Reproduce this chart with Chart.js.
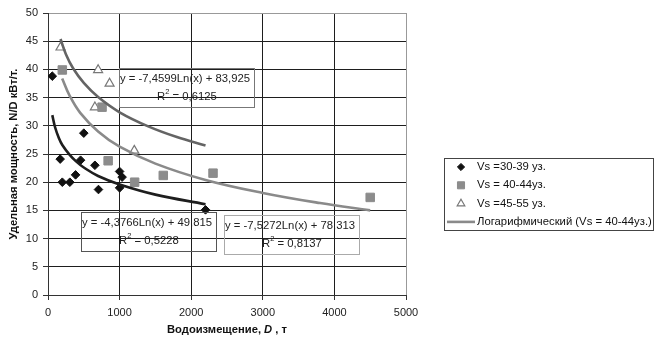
<!DOCTYPE html>
<html><head><meta charset="utf-8">
<script src="https://cdn.jsdelivr.net/npm/chart.js@4/dist/chart.umd.min.js"></script>
<style>html,body{margin:0;padding:0;background:#fff}#wrap{width:660px;height:340px;position:relative}</style>
</head><body><div id="wrap"><canvas id="c" width="660" height="340"></canvas></div>
<script>
// ---- data ----
const xTickValues = [0, 1000, 2000, 3000, 4000, 5000];
const yTickValues = [0, 5, 10, 15, 20, 25, 30, 35, 40, 45, 50];
const seriesLabels = ['Vs =30-39 уз.', 'Vs = 40-44уз.', 'Vs =45-55 уз.'];
const trendLabels = ['Логарифмический (Vs = 30-39уз.)', 'Логарифмический (Vs = 40-44уз.)', 'Логарифмический (Vs = 45-55уз.)'];
const xTitle = ['Водоизмещение, ', 'D', ' , т'];
const yTitle = 'Удельная мощность, N/D кВт/т.';

const vs30x = [60, 170, 200, 305, 385, 455, 500, 655, 705, 1000, 1035, 1000, 2200];
const vs30y = [38.8, 24.1, 20.0, 20.0, 21.3, 23.9, 28.7, 23.0, 18.7, 21.9, 20.9, 19.0, 15.1];
const vs40x = [200, 755, 840, 1210, 1610, 2305, 4500];
const vs40y = [39.9, 33.3, 23.8, 20.0, 21.2, 21.6, 17.3];
const vs45x = [175, 700, 860, 655, 1205];
const vs45y = [43.9, 39.9, 37.5, 33.3, 25.6];

const trend30x = [60, 100, 150, 200, 300, 400, 500, 700, 1000, 1500, 2200];
const trend30y = [31.9, 29.7, 27.9, 26.6, 24.9, 23.6, 22.6, 21.1, 19.6, 17.8, 16.1];
const trend40x = [198, 300, 450, 700, 1000, 1500, 2200, 3000, 3800, 4500];
const trend40y = [38.4, 35.4, 32.3, 29.0, 26.3, 23.3, 20.4, 18.1, 16.3, 15.0];
const trend45x = [175, 250, 350, 500, 700, 1000, 1400, 1800, 2200];
const trend45y = [45.4, 42.7, 40.2, 37.6, 35.1, 32.4, 29.9, 28.0, 26.5];

const eqTexts = ['y = -4,3766Ln(x) + 49,815', 'y = -7,5272Ln(x) + 78,313', 'y = -7,4599Ln(x) + 83,925'];
const r2Texts = ['0,5228', '0,8137', '0,6125'];

// ---- build ----
const pts = (xs, ys) => xs.map((x, i) => ({x, y: ys[i]}));
const FONT = '"Liberation Sans", Arial, sans-serif';
const TXT = '11.3px ' + FONT;

const datasets = [
  {type: 'line', label: trendLabels[0], data: pts(trend30x, trend30y), borderColor: '#1e1e1e', borderWidth: 2.6, pointRadius: 0, tension: 0.4, fill: false, order: 1},
  {type: 'line', label: trendLabels[1], data: pts(trend40x, trend40y), borderColor: '#8a8a8a', borderWidth: 2.6, pointRadius: 0, tension: 0.4, fill: false, order: 1},
  {type: 'line', label: trendLabels[2], data: pts(trend45x, trend45y), borderColor: '#646464', borderWidth: 2.6, pointRadius: 0, tension: 0.4, fill: false, order: 1},
  {type: 'scatter', label: seriesLabels[0], data: pts(vs30x, vs30y), pointStyle: 'rectRot', pointRadius: 4.3, backgroundColor: '#111', borderColor: '#111', borderWidth: 1, order: 2},
  {type: 'scatter', label: seriesLabels[1], data: pts(vs40x, vs40y), pointStyle: 'rect', pointRadius: 6, backgroundColor: '#8c8c8c', borderColor: '#8c8c8c', borderWidth: 1, order: 2},
  {type: 'scatter', label: seriesLabels[2], data: pts(vs45x, vs45y), pointStyle: 'triangle', pointRadius: 5.2, backgroundColor: '#fff', borderColor: '#777', borderWidth: 1.2, order: 2}
];
const legendOrder = [3, 4, 5, 1];

const annotPlugin = {
  id: 'annot',
  afterDraw(chart, args, opts) {
    const ctx = chart.ctx, xs = chart.scales.x, ys = chart.scales.y, ca = chart.chartArea;
    ctx.save();
    // equation boxes
    opts.boxes.forEach((b) => {
      const left = Math.round(xs.getPixelForValue(b.x)) + 0.5;
      const top = Math.round(ys.getPixelForValue(b.y)) + 0.5;
      ctx.strokeStyle = b.border; ctx.lineWidth = 1;
      ctx.strokeRect(left, top, b.w, b.h);
      ctx.fillStyle = '#222';
      ctx.font = TXT;
      ctx.textBaseline = 'middle'; ctx.textAlign = 'left';
      ctx.fillText(eqTexts[b.idx], left + 0.5, top + 10.5);
      const r = 'R', rest = ' = ' + r2Texts[b.idx];
      const wR = ctx.measureText(r).width, wRest = ctx.measureText(rest).width;
      ctx.font = '7.5px ' + FONT;
      const w2 = ctx.measureText('2').width;
      const tot = wR + w2 + wRest;
      const sx = left + b.w / 2 - tot / 2;
      const ly = top + 28.5;
      ctx.font = TXT;
      ctx.fillText(r, sx, ly);
      ctx.font = '7.5px ' + FONT;
      ctx.fillText('2', sx + wR, ly - 5.5);
      ctx.font = TXT;
      ctx.fillText(rest, sx + wR + w2, ly);
    });
    // legend
    const L = opts.legend;
    ctx.strokeStyle = '#444'; ctx.lineWidth = 1;
    ctx.strokeRect(L.x + 0.5, L.y + 0.5, L.w, L.h);
    ctx.font = TXT; ctx.textBaseline = 'middle'; ctx.textAlign = 'left';
    legendOrder.forEach((di, k) => {
      const ds = chart.data.datasets[di];
      const cy = L.y + L.rowTop + k * L.rowH;
      if (ds.type === 'line') {
        ctx.strokeStyle = ds.borderColor; ctx.lineWidth = 2.6;
        ctx.beginPath(); ctx.moveTo(L.x + 3, cy); ctx.lineTo(L.x + 31, cy); ctx.stroke();
      } else {
        const st = ds.pointStyle, R = st === 'rect' ? 5 : (st === 'triangle' ? 4.4 : 3.6);
        ctx.save();
        ctx.fillStyle = ds.backgroundColor; ctx.strokeStyle = ds.borderColor; ctx.lineWidth = ds.borderWidth;
        Chart.helpers.drawPoint(ctx, {pointStyle: st, radius: R, borderWidth: ds.borderWidth}, L.x + L.markerX, cy);
        ctx.restore();
      }
      ctx.fillStyle = '#111';
      ctx.fillText(ds.label, L.x + L.textX, cy);
    });
    // axis titles
    ctx.fillStyle = '#111';
    ctx.textBaseline = 'middle';
    const cx = (ca.left + ca.right) / 2;
    const B = 'bold 11.2px ' + FONT, BI = 'italic bold 11.2px ' + FONT;
    ctx.font = B;
    const w0 = ctx.measureText(xTitle[0]).width, w2b = ctx.measureText(xTitle[2]).width;
    ctx.font = BI;
    const w1 = ctx.measureText(xTitle[1]).width;
    const x0 = cx - (w0 + w1 + w2b) / 2;
    const ty = opts.xTitleY;
    ctx.textAlign = 'left';
    ctx.font = B; ctx.fillText(xTitle[0], x0, ty);
    ctx.font = BI; ctx.fillText(xTitle[1], x0 + w0, ty);
    ctx.font = B; ctx.fillText(xTitle[2], x0 + w0 + w1, ty);
    ctx.translate(opts.yTitleX, (ca.top + ca.bottom) / 2);
    ctx.rotate(-Math.PI / 2);
    ctx.textAlign = 'center';
    ctx.font = B;
    ctx.fillText(yTitle, 0, 0);
    ctx.restore();
  }
};

new Chart(document.getElementById('c'), {
  type: 'scatter',
  data: {datasets},
  options: {
    responsive: false, animation: false, devicePixelRatio: 1,
    layout: {padding: {left: 0, top: 13, right: 254, bottom: 0}},
    plugins: {
      legend: {display: false}, tooltip: {enabled: false},
      annot: {
        boxes: [
          {idx: 2, x: 985, y: 40.2, w: 135, h: 39, border: '#777'},
          {idx: 0, x: 455, y: 14.8, w: 135, h: 39, border: '#555'},
          {idx: 1, x: 2455, y: 14.2, w: 135, h: 39, border: '#aaa'}
        ],
        legend: {x: 444, y: 158, w: 209, h: 72, rowTop: 9, rowH: 18.3, markerX: 17, textX: 33},
        xTitleY: 330, yTitleX: 14
      }
    },
    scales: {
      x: {
        type: 'linear', min: 0, max: 5000,
        afterBuildTicks: s => { s.ticks = xTickValues.map(v => ({value: v})); },
        afterFit: s => { s.height = 45; },
        ticks: {color: '#222', font: {size: 11, family: FONT}, padding: 6, maxRotation: 0, callback: v => String(v)},
        grid: {color: c => c.tick && c.tick.value === 5000 ? '#999' : '#1e1e1e', lineWidth: 1, tickLength: 5, tickColor: '#333', drawTicks: true},
        border: {color: '#333', width: 1}
      },
      y: {
        type: 'linear', min: 0, max: 50,
        afterBuildTicks: s => { s.ticks = yTickValues.map(v => ({value: v})); },
        afterFit: s => { s.width = 48; },
        ticks: {color: '#222', font: {size: 11, family: FONT}, padding: 5, callback: v => String(v)},
        grid: {color: c => c.tick && c.tick.value === 50 ? '#999' : '#1e1e1e', lineWidth: 1, tickLength: 5, tickColor: '#333'},
        border: {color: '#333', width: 1}
      }
    }
  },
  plugins: [annotPlugin]
});
</script></body></html>
